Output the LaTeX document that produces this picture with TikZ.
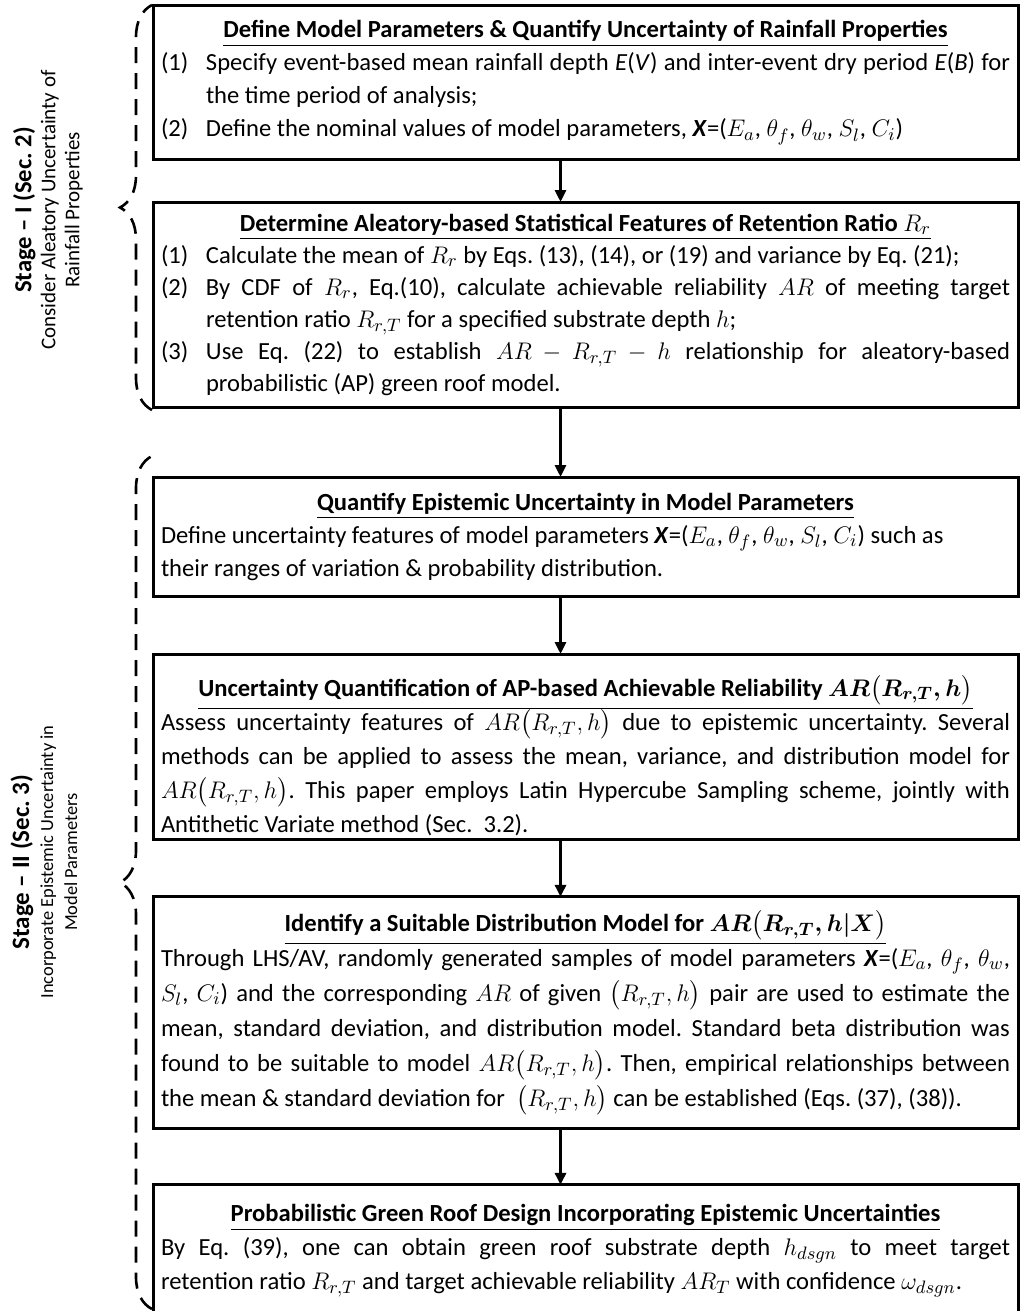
\documentclass[tikz,border=0pt]{standalone}
\usepackage{amsmath, amssymb}
\usepackage{fontspec}
\setmainfont{Carlito}[WordSpace={1,1.6,1.8}]
\usepackage{tikz}
\usetikzlibrary{arrows.meta, positioning, decorations.pathreplacing}

\newlength{\itmind}
\setlength{\itmind}{22.5pt}
\newcommand{\boxtitle}[1]{\makebox[\linewidth]{\underline{\textbf{#1}}}\par}
\newcommand{\itm}[2]{\noindent\hangindent=\itmind\hangafter=1\makebox[\itmind][l]{#1}#2\par}
\newcommand{\paramX}{\textbf{\textit{X}}=($E_a$, $\theta_f$, $\theta_w$, $S_l$, $C_i$)}
\newcommand{\ARrh}{AR\bigl(R_{r,T},h\bigr)}
\frenchspacing

\begin{document}
\begin{tikzpicture}[
  x=0.5pt, y=0.5pt,
  node distance=21.5pt,
  box/.style={
    rectangle,
    draw,
    line width=1.5pt,
    outer sep=0pt,
    align=justify,
    text width=424.5pt,
    inner xsep=4pt,
    inner ysep=2pt,
    minimum width=432.5pt,
    font=\fontsize{12.3}{16.5}\selectfont
  },
  arrow/.style={-{Triangle[length=6pt, width=5.5pt]}, line width=1.5pt},
  stagebrace/.style={decorate, decoration={brace, amplitude=16pt}, line width=1.3pt, dash pattern=on 8pt off 5pt},
  stagelabel/.style={rotate=90, align=center}
]
\useasboundingbox (0,0) rectangle (1020,-1311);

% Boxes (stacked top-down)
\node[box, minimum height=76.5pt, anchor=north west] (define) at (153,-6) {%
  \boxtitle{Define Model Parameters \& Quantify Uncertainty of Rainfall Properties}
  \itm{(1)}{Specify event-based mean rainfall depth \textit{E}(\textit{V}) and inter-event dry period \textit{E}(\textit{B}) for\linebreak the time period of analysis;}
  \itm{(2)}{Define the nominal values of model parameters, \paramX}};
\node[box, minimum height=102.5pt, font=\fontsize{12.3}{16}\selectfont, below=21.5pt of define] (aleatory) {%
  \boxtitle{Determine Aleatory-based Statistical Features of Retention Ratio $R_r$}
  \itm{(1)}{Calculate the mean of $R_r$ by Eqs. (13), (14), or (19) and variance by Eq. (21);}
  \itm{(2)}{By CDF of $R_r$, Eq.(10), calculate achievable reliability $AR$ of meeting target\linebreak retention ratio $R_{r,T}$ for a specified substrate depth $h$;}
  \itm{(3)}{Use Eq. (22) to establish $AR-R_{r,T}-h$ relationship for aleatory-based\linebreak probabilistic (AP) green roof model.}};
\node[box, minimum height=59.5pt, below=35pt of aleatory] (epistemic) {%
  \boxtitle{Quantify Epistemic Uncertainty in Model Parameters}
  Define uncertainty features of model parameters \paramX{} such as\newline
  their ranges of variation \& probability distribution.};
\node[box, minimum height=91.5pt, font=\fontsize{12.3}{17}\selectfont, below=29pt of epistemic] (uq) {%
  \boxtitle{\rule{0pt}{19pt}Uncertainty Quantification of AP-based Achievable Reliability {\boldmath$\ARrh$}}
  \vspace{-1pt}
  Assess uncertainty features of $\ARrh$ due to epistemic uncertainty. Several\linebreak methods can be applied to assess the mean, variance, and distribution model for\linebreak $\ARrh$. This paper employs Latin Hypercube Sampling scheme, jointly with\linebreak Antithetic Variate method (Sec.~~3.2).};
\node[box, minimum height=116pt, font=\fontsize{12.3}{17.5}\selectfont, below=28.5pt of uq] (distmodel) {%
  \boxtitle{Identify a Suitable Distribution Model for {\boldmath$AR\bigl(R_{r,T},h|X\bigr)$}}
  Through LHS/AV, randomly generated samples of model parameters \textbf{\textit{X}}=($E_a$, $\theta_f$, $\theta_w$,\linebreak $S_l$, $C_i$) and the corresponding $AR$ of given $\bigl(R_{r,T},h\bigr)$ pair are used to estimate the\linebreak mean, standard deviation, and distribution model. Standard beta distribution was\linebreak found to be suitable to model $\ARrh$. Then, empirical relationships between\linebreak the mean \& standard deviation for~ $\bigl(R_{r,T},h\bigr)$ can be established (Eqs. (37), (38)).};
\node[box, minimum height=66pt, font=\fontsize{12.3}{17}\selectfont, below=28pt of distmodel] (design) {%
  \boxtitle{Probabilistic Green Roof Design Incorporating Epistemic Uncertainties}
  By Eq. (39), one can obtain green roof substrate depth $h_{dsgn}$ to meet target\linebreak retention ratio $R_{r,T}$ and target achievable reliability $AR_T$ with confidence $\omega_{dsgn}$.};

% Arrows
\draw[arrow] ([xshift=-12.5pt]define.south) -- ([xshift=-12.5pt]aleatory.north);
\draw[arrow] ([xshift=-12.5pt]aleatory.south) -- ([xshift=-12.5pt]epistemic.north);
\draw[arrow] ([xshift=-12.5pt]epistemic.south) -- ([xshift=-12.5pt]uq.north);
\draw[arrow] ([xshift=-12.5pt]uq.south) -- ([xshift=-12.5pt]distmodel.north);
\draw[arrow] ([xshift=-12.5pt]distmodel.south) -- ([xshift=-12.5pt]design.north);

% Stage braces
\coordinate (stageItop) at (152,-5);
\coordinate (stageIbot) at (152,-410);
\coordinate (stageIItop) at (152,-456);
\coordinate (stageIIbot) at (152,-1309);
\draw[stagebrace] (stageIbot) -- (stageItop);
\draw[stagebrace] (stageIIbot) -- (stageIItop);

% Stage labels
\node[stagelabel] (stageI) at (48,-210) {{\fontsize{12.3}{12}\selectfont\bfseries Stage -- I (Sec. 2)}\\{\fontsize{10.5}{11.5}\selectfont Consider Aleatory Uncertainty of}\\{\fontsize{10.5}{11}\selectfont Rainfall Properties}};
\node[stagelabel] (stageII) at (44,-862) {{\fontsize{12.5}{11}\selectfont\bfseries Stage -- II (Sec. 3)}\\{\fontsize{9.2}{10.5}\selectfont Incorporate Epistemic Uncertainty in}\\{\fontsize{9.2}{10}\selectfont Model Parameters}};

\end{tikzpicture}
\end{document}
